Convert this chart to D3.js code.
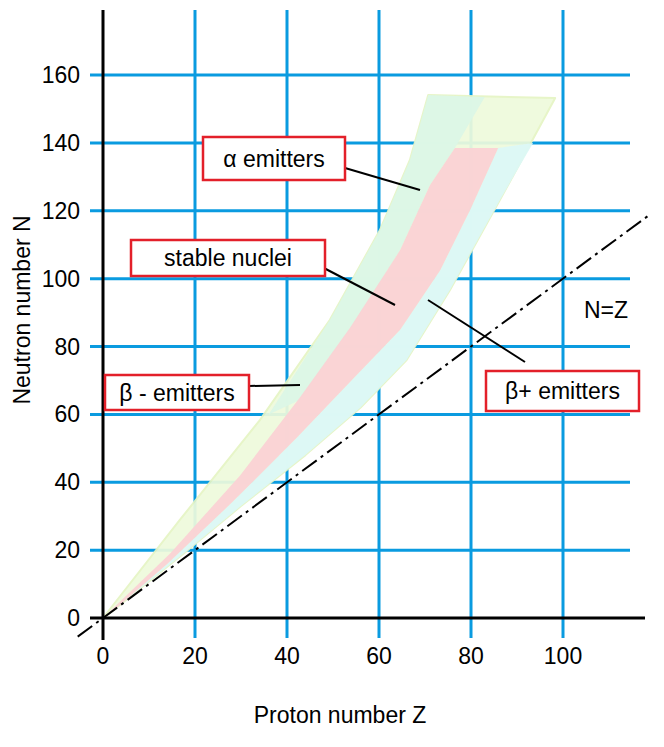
<!DOCTYPE html><html><head><meta charset="utf-8">
<script src="https://cdn.jsdelivr.net/npm/d3@7"></script>
<style>body{margin:0;background:#fff}text{font-family:Arial,"Liberation Sans",sans-serif}</style></head><body>
<svg id="c" width="664" height="747"></svg>
<script>
const xTicks=[0,20,40,60,80,100];
const yTicks=[0,20,40,60,80,100,120,140,160];
const outerBand=[[0,0],[16.7,28.9],[34.1,58.3],[49.3,87.8],[60.2,114.3],[66.7,134.9],[70.7,154.1],[98.3,153.2],[86.3,123.2],[75.4,96.6],[66,76],[56,62],[44,48],[30,33],[18,19.5],[1.5,1.5]];
const alphaBand=[[70.7,154.1],[83,153.5],[76.5,138.5],[71.1,127.6],[64.6,108.4],[53.7,84.9],[42.8,64.2],[36,60],[49.3,87.8],[60.2,114.3],[66.7,134.9]];
const betaPlusBand=[[85.9,138.5],[93.5,140],[86.3,123.2],[75.4,96.6],[66,76],[56,62],[44,48],[30,33],[18,19.5],[1.5,1.5],[0.4,0],[14,16],[28,34],[42,53],[54,70],[64.6,84.9],[73.3,102.5],[79.8,120.2]];
const stableBand=[[0,0],[14.6,19],[29.8,42],[42.8,65],[53.7,85.5],[64.6,108.4],[71.1,127.6],[76.5,138.5],[85.9,138.5],[79.8,120.2],[73.3,102.5],[64.6,84.9],[54,70],[42,53],[28,34],[14,16],[0.4,0]];
const nzLine=[[-5.5,-5.5],[119,119]];

const svg=d3.select("#c");
const x=d3.scaleLinear().domain([0,100]).range([103,563]);
const y=d3.scaleLinear().domain([0,160]).range([618,75]);
const blue="#0a9be0";
svg.append("g").selectAll("line").data(yTicks.slice(1)).join("line")
 .attr("x1",90).attr("x2",630).attr("y1",d=>y(d)).attr("y2",d=>y(d)).attr("stroke",blue).attr("stroke-width",3);
svg.append("g").selectAll("line").data(xTicks.slice(1)).join("line")
 .attr("x1",d=>x(d)).attr("x2",d=>x(d)).attr("y1",10).attr("y2",638).attr("stroke",blue).attr("stroke-width",3);
const line=d3.line().x(d=>x(d[0])).y(d=>y(d[1]));
const poly=(data,fill,stroke)=>svg.append("path").attr("d",line(data)+"Z").attr("fill",fill).attr("stroke",stroke||"none").attr("stroke-width",2).attr("stroke-linejoin","round");
poly(outerBand,"#eefadc","#e6f5c4").attr("opacity",0.93);
poly(alphaBand,"#dcf6e6").attr("opacity",0.93);
poly(betaPlusBand,"#dcf8f6").attr("opacity",0.93);
poly(stableBand,"#fad2d4").attr("opacity",0.95);
svg.append("line").attr("x1",103).attr("x2",103).attr("y1",10).attr("y2",640).attr("stroke","#000").attr("stroke-width",3);
svg.append("line").attr("x1",90).attr("x2",645).attr("y1",618).attr("y2",618).attr("stroke","#000").attr("stroke-width",3);
svg.append("path").attr("d",line(nzLine)).attr("stroke","#000").attr("stroke-width",2).attr("stroke-dasharray","18,5,3,5").attr("fill","none");
svg.append("g").selectAll("text").data(yTicks).join("text").attr("x",80).attr("y",d=>y(d)+8).attr("text-anchor","end").attr("font-size",23).text(d=>d);
svg.append("g").selectAll("text").data(xTicks).join("text").attr("x",d=>x(d)).attr("y",664).attr("text-anchor","middle").attr("font-size",23).text(d=>d);
svg.append("text").attr("x",340).attr("y",723).attr("text-anchor","middle").attr("font-size",23).text("Proton number Z");
svg.append("text").attr("transform","translate(30,310) rotate(-90)").attr("text-anchor","middle").attr("font-size",23).text("Neutron number N");
svg.append("text").attr("x",584).attr("y",318).attr("font-size",23).text("N=Z");
const notes=[
 {t:"α emitters",bx:203,by:137,bw:142,bh:43,l:[345,168,420,190]},
 {t:"stable nuclei",bx:131,by:240,bw:194,bh:36,l:[320,266,395,305]},
 {t:"β - emitters",bx:105,by:375,bw:144,bh:35,l:[249,386,300,385]},
 {t:"β+ emitters",bx:486,by:371,bw:153,bh:40,l:[525,362,428,300]}];
notes.forEach(n=>{
 svg.append("line").attr("x1",n.l[0]).attr("y1",n.l[1]).attr("x2",n.l[2]).attr("y2",n.l[3]).attr("stroke","#000").attr("stroke-width",2);
 svg.append("rect").attr("x",n.bx).attr("y",n.by).attr("width",n.bw).attr("height",n.bh).attr("fill","#fff").attr("stroke","#e3202a").attr("stroke-width",2.5);
 svg.append("text").attr("x",n.bx+n.bw/2).attr("y",n.by+n.bh/2+8).attr("text-anchor","middle").attr("font-size",23).text(n.t);
});
</script></body></html>
